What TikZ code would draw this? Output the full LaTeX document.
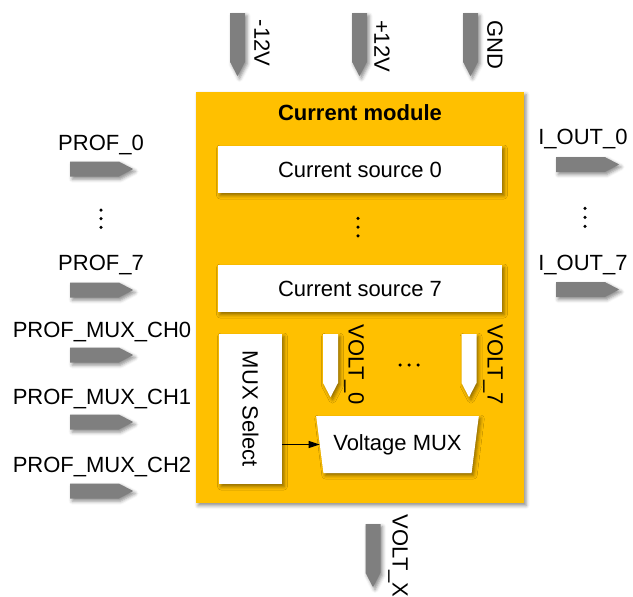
\documentclass[tikz,border=0pt]{standalone}
\usepackage{fontspec}
\setmainfont{Liberation Sans}
\usetikzlibrary{shapes.symbols,shapes.geometric,shadows.blur,arrows.meta}
\definecolor{modorange}{HTML}{FFC000}
\definecolor{pingray}{HTML}{7F7F7F}

\begin{document}
\begin{tikzpicture}[x=1pt,y=-1pt,
  font=\fontsize{22}{26}\selectfont,
  softshadow/.style={blur shadow={shadow xshift=2pt,shadow yshift=-2.5pt,shadow blur radius=3.5pt,shadow opacity=45}},
  pinright/.style={signal,signal to=east,signal pointer angle=55,fill=pingray,minimum width=63pt,minimum height=15pt,inner sep=0pt,anchor=west,softshadow},
  pindown/.style={signal,signal to=south,signal pointer angle=55,fill=pingray,minimum width=15pt,minimum height=48.6pt,inner sep=0pt,anchor=north,softshadow},
  block/.style={fill=white,inner sep=0pt,softshadow},
  vert/.style={rotate=-90},
  dotmark/.style={circle,fill=black,inner sep=0pt,minimum size=3.5pt}]
\useasboundingbox (0,0) rectangle (633,597);

% supply pins
\node[pindown] (m12) at (237.5,13) {};
\node[vert] (m12l) at (262,43) {-12V};
\node[pindown] (p12) at (359.5,13) {};
\node[vert] (p12l) at (382,46) {+12V};
\node[pindown] (gnd) at (470.5,13) {};
\node[vert] (gndl) at (495,45) {GND};

% module
\node[fill=modorange,minimum width=328pt,minimum height=411pt,softshadow] (module) at (360,297.5) {};
\node[font=\fontsize{22}{26}\selectfont\bfseries] (title) at (360,113) {Current module};

\node[block,minimum width=284pt,minimum height=47pt] (cs0) at (360,169.5) {Current source 0};
\foreach \k in {0,1,2}
  \node[dotmark] (mdot\k) at (358,{218.3+8.8*\k}) {};
\node[block,minimum width=284pt,minimum height=47pt] (cs7) at (360,288.5) {Current source 7};

\node[block,minimum width=63pt,minimum height=150pt] (musel) at (250.5,409) {};
\node[vert] (musell) at (musel) {MUX Select};

\node[pindown,fill=white] (volt0) at (330.5,334) {};
\node[vert] (volt0l) at (354,364.5) {VOLT\_0};
\foreach \k in {0,1,2}
  \node[dotmark] (hdot\k) at ({400+9*\k},365) {};
\node[pindown,fill=white] (volt7) at (469,334) {};
\node[vert] (volt7l) at (493,364.5) {VOLT\_7};

\node[block,trapezium,trapezium angle=73,shape border rotate=180,trapezium stretches=true,
  minimum width=163pt,minimum height=57pt] (vmux) at (397.5,444.5) {Voltage MUX};
\draw[-{Triangle[length=11pt,width=7pt]},line width=1pt] (musel.east |- vmux.west) -- (vmux.west);

% output
\node[pindown] (voltx) at (373,524) {};
\node[vert] (voltxl) at (398,556) {VOLT\_X};

% inputs
\node[pinright] (prof0) at (70,169) {};
\node (prof0l) at (101,145) {PROF\_0};
\foreach \k in {0,1,2}
  \node[dotmark] (ldot\k) at (101,{210+8.7*\k}) {};
\node[pinright] (prof7) at (70,290) {};
\node (prof7l) at (101,265) {PROF\_7};
\node[pinright] (ch0) at (70,355) {};
\node (ch0l) at (102,332) {PROF\_MUX\_CH0};
\node[pinright] (ch1) at (70,422) {};
\node (ch1l) at (102,399) {PROF\_MUX\_CH1};
\node[pinright] (ch2) at (70,491) {};
\node (ch2l) at (102,467) {PROF\_MUX\_CH2};

% outputs
\node[pinright] (iout0) at (556,164.5) {};
\node (iout0l) at (583,139) {I\_OUT\_0};
\foreach \k in {0,1,2}
  \node[dotmark] (rdot\k) at (585,{208.3+9*\k}) {};
\node[pinright] (iout7) at (556,289.5) {};
\node (iout7l) at (583,265) {I\_OUT\_7};
\end{tikzpicture}
\end{document}
